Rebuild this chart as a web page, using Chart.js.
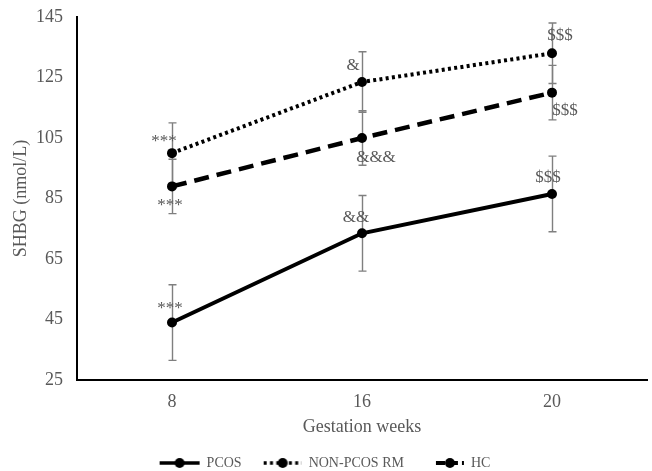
<!DOCTYPE html>
<html><head><meta charset="utf-8">
<script src="https://cdn.jsdelivr.net/npm/chart.js@4"></script>
<style>html,body{margin:0;padding:0;background:#fff;}</style>
</head><body>
<canvas id="c" width="652" height="471" style="display:block;width:652px;height:471px"></canvas>
<script>
// ---- data ----
const weeks = ['8', '16', '20'];
const seriesNames = ['PCOS', 'NON-PCOS RM', 'HC'];
const pcos = [44, 73.5, 86.5];
const nonPcos = [100, 123.5, 133];
const hc = [89, 105, 120];
const pcosErr = [12.5, 12.5, 12.5];
const nonPcosErr = [10, 10, 10];
const hcErr = [9, 9, 9];
const pcosMarks = ['***', '&&', '$$$'];
const nonPcosMarks = ['***', '&', '$$$'];
const hcMarks = ['***', '&&&', '$$$'];
const yMin = 25, yMax = 145, yStep = 20;

// ---- styles / positions of annotation text (dx, dy from point) ----
const markOffsets = [
  [[-2, -10], [-6, -11], [-4, -12]],
  [[-8, -7], [-9, -12], [8, -13]],
  [[-2, 24], [14, 24], [13, 22]]
];
const PAD_BOTTOM = -9;

const FONT = "'Liberation Serif', 'Times New Roman', serif";
Chart.defaults.font.family = FONT;

function makeMarker(dash, lw, x0, x1, cx) {
  const c = document.createElement('canvas');
  c.width = 44; c.height = 12;
  const g = c.getContext('2d');
  g.strokeStyle = '#000'; g.fillStyle = '#000';
  g.lineWidth = lw; g.setLineDash(dash);
  g.beginPath(); g.moveTo(x0, 6); g.lineTo(x1, 6); g.stroke();
  g.setLineDash([]);
  g.beginPath(); g.arc(cx, 6, 5, 0, Math.PI * 2); g.fill();
  return c;
}
const legendImgs = [
  makeMarker([], 3.5, 2, 42, 22),
  makeMarker([3, 3.3], 3.5, 4, 42, 23),
  makeMarker([9, 4], 4, 14, 42, 28)
];

const errorBars = {
  id: 'errorBars',
  beforeDatasetsDraw(chart) {
    const {ctx, scales: {y}} = chart;
    ctx.save();
    ctx.strokeStyle = '#7f7f7f';
    ctx.lineWidth = 1.4;
    chart.data.datasets.forEach((ds, i) => {
      const meta = chart.getDatasetMeta(i);
      meta.data.forEach((pt, j) => {
        const v = ds.data[j], e = ds.errors[j];
        const t = y.getPixelForValue(v + e), b = y.getPixelForValue(v - e);
        const px = Math.round(pt.x) + 0.5;
        ctx.beginPath();
        ctx.moveTo(px, t); ctx.lineTo(px, b);
        ctx.moveTo(px - 4, t); ctx.lineTo(px + 4, t);
        ctx.moveTo(px - 4, b); ctx.lineTo(px + 4, b);
        ctx.stroke();
      });
    });
    ctx.restore();
  }
};

const marks = {
  id: 'marks',
  afterDatasetsDraw(chart) {
    const {ctx} = chart;
    ctx.save();
    ctx.fillStyle = '#595959';
    ctx.font = '17px ' + FONT;
    ctx.textAlign = 'center';
    ctx.textBaseline = 'alphabetic';
    chart.data.datasets.forEach((ds, i) => {
      const meta = chart.getDatasetMeta(i);
      meta.data.forEach((pt, j) => {
        const [dx, dy] = markOffsets[i][j];
        ctx.fillText(ds.marks[j], pt.x + dx, pt.y + dy);
      });
    });
    ctx.restore();
  }
};

const common = {pointRadius: 5, pointHoverRadius: 5, pointBackgroundColor: '#000', pointBorderWidth: 0,
  borderColor: '#000', backgroundColor: '#000', fill: false, tension: 0};

new Chart(document.getElementById('c'), {
  type: 'line',
  data: {
    labels: weeks,
    datasets: [
      Object.assign({label: seriesNames[0], data: pcos, errors: pcosErr, marks: pcosMarks, borderWidth: 4}, common),
      Object.assign({label: seriesNames[1], data: nonPcos, errors: nonPcosErr, marks: nonPcosMarks, borderWidth: 4, borderDash: [3, 3.3]}, common),
      Object.assign({label: seriesNames[2], data: hc, errors: hcErr, marks: hcMarks, borderWidth: 4.5, borderDash: [15, 8]}, common)
    ]
  },
  options: {
    responsive: false,
    animation: false,
    layout: {padding: {top: 17, right: 2, left: 0, bottom: PAD_BOTTOM}},
    plugins: {
      tooltip: {enabled: false},
      legend: {
        position: 'bottom',
        labels: {
          usePointStyle: true,
          pointStyleWidth: 40,
          padding: 20,
          color: '#595959',
          font: {size: 14, family: FONT},
          generateLabels(chart) {
            return chart.data.datasets.map((ds, i) => ({
              text: ds.label, pointStyle: legendImgs[i], fillStyle: '#000', strokeStyle: '#000',
              lineWidth: 0, datasetIndex: i, fontColor: '#595959', hidden: false
            }));
          }
        }
      }
    },
    scales: {
      x: {
        offset: true,
        grid: {display: false, drawTicks: false},
        border: {display: true, color: '#000', width: 2},
        ticks: {color: '#595959', font: {size: 18}, padding: 11},
        title: {display: true, text: 'Gestation weeks', color: '#595959', font: {size: 18}, padding: {top: 0, bottom: -2}},
        afterFit(s) {
          const lh = s.chart.legend ? s.chart.legend.height : 44;
          s.height = 471 - PAD_BOTTOM - lh - 380;
        }
      },
      y: {
        min: yMin, max: yMax,
        grid: {display: false, drawTicks: true, tickLength: 12},
        border: {display: true, color: '#000', width: 2},
        ticks: {stepSize: yStep, color: '#595959', font: {size: 18}, padding: 2},
        title: {display: true, text: 'SHBG (nmol/L)', color: '#595959', font: {size: 18}, padding: {top: 10, bottom: 0}},
        afterFit(s) { s.width = 77; }
      }
    }
  },
  plugins: [errorBars, marks]
});
</script>
</body></html>
